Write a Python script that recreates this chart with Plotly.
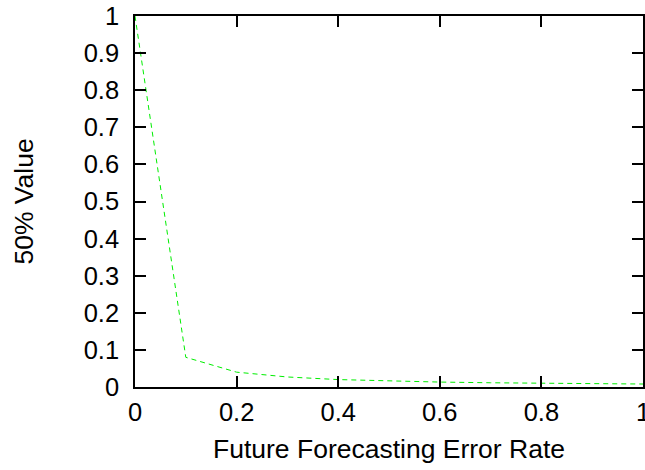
import plotly.graph_objects as go

# Forecast error rate vs. 50% value
error_rate = [0.0, 0.1, 0.2, 0.3, 0.4, 0.5, 0.6, 0.7, 0.8, 0.9, 1.0]
value_50 = [1.0, 0.08, 0.04, 0.027, 0.02, 0.016, 0.0133, 0.0114, 0.01, 0.0089, 0.008]

x_ticks = [0, 0.2, 0.4, 0.6, 0.8, 1]
y_ticks = [0, 0.1, 0.2, 0.3, 0.4, 0.5, 0.6, 0.7, 0.8, 0.9, 1]

FONT = "Liberation Sans, Arial, Helvetica, sans-serif"
TICK_SIZE = 25.5
TITLE_SIZE = 26.5

fig = go.Figure()
fig.add_trace(go.Scatter(
    x=error_rate, y=value_50, mode="lines",
    line=dict(color="#00ee00", width=1, dash="5px,4px"),
    showlegend=False,
))

axis_common = dict(
    showgrid=False, zeroline=False,
    showline=True, linecolor="black", linewidth=1.5,
    mirror="ticks", ticks="inside", ticklen=11, tickwidth=1.5, tickcolor="black",
    tickfont=dict(family=FONT, size=TICK_SIZE, color="black"),
    ticklabeloverflow="allow", automargin=False,
)

fig.update_xaxes(
    range=[0, 1], tickvals=x_ticks, ticktext=[f"{v:g}" for v in x_ticks],
    ticklabelstandoff=2,
    title=dict(text="Future Forecasting Error Rate", font=dict(family=FONT, size=TITLE_SIZE, color="black"), standoff=14),
    **axis_common,
)
fig.update_yaxes(
    range=[0, 1], tickvals=y_ticks, ticktext=[f"{v:g}" for v in y_ticks],
    ticklabelstandoff=9,
    title=dict(text="50% Value", font=dict(family=FONT, size=TITLE_SIZE, color="black"), standoff=42),
    **axis_common,
)

fig.update_layout(
    width=645, height=470,
    margin=dict(l=135, r=2, t=16, b=83),
    paper_bgcolor="white", plot_bgcolor="white",
)

fig.write_html("out.html")
